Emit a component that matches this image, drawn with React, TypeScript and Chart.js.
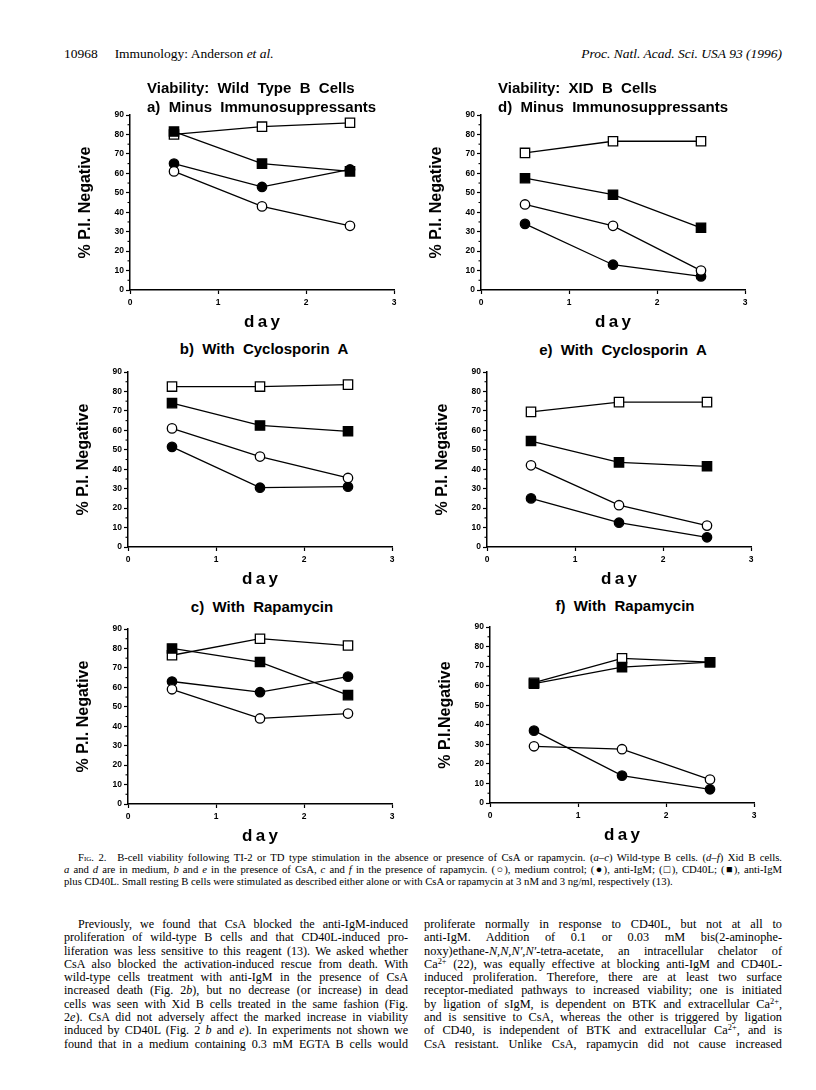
import React, { useEffect, useRef } from "react";
import { Chart, registerables } from "chart.js";
Chart.register(...registerables);

// ---------- data ----------
const DAYS = [0.5, 1.5, 2.5];

// a) Wild type, minus immunosuppressants
const A_MEDIUM = [61, 43, 33];
const A_ANTI_IGM = [65, 53, 62];
const A_CD40L = [80, 84, 86];
const A_BOTH = [81.5, 65, 61];

// b) Wild type, with cyclosporin A
const B_MEDIUM = [61, 46.5, 35.5];
const B_ANTI_IGM = [51.5, 30.5, 31];
const B_CD40L = [82.5, 82.5, 83.5];
const B_BOTH = [74, 62.5, 59.5];

// c) Wild type, with rapamycin
const C_MEDIUM = [59, 44, 46.5];
const C_ANTI_IGM = [63, 57.5, 65.5];
const C_CD40L = [76.5, 85, 81.5];
const C_BOTH = [80, 73, 56];

// d) XID, minus immunosuppressants
const D_MEDIUM = [44, 33, 10];
const D_ANTI_IGM = [34, 13, 7];
const D_CD40L = [70.5, 76.5, 76.5];
const D_BOTH = [57.5, 49, 32];

// e) XID, with cyclosporin A
const E_MEDIUM = [42, 21.5, 11];
const E_ANTI_IGM = [25, 12.5, 5];
const E_CD40L = [69.5, 74.5, 74.5];
const E_BOTH = [54.5, 43.5, 41.5];

// f) XID, with rapamycin
const F_MEDIUM = [29, 27.5, 12];
const F_ANTI_IGM = [37, 14, 7];
const F_CD40L = [61.5, 74, 72];
const F_BOTH = [61, 69.5, 72];

const X_MIN = 0;
const X_MAX = 3;
const Y_MIN = 0;
const Y_MAX = 90;
const Y_MINOR = [5, 15, 25, 35, 45, 55, 65, 75, 85];

// ---------- layout / style ----------
const SANS = '"Liberation Sans", Arial, Helvetica, sans-serif';
const SERIF = '"Liberation Serif", "Times New Roman", serif';

const Y_W = 70;
const X_H = 45;
const PAD_T = 10;
const PAD_R = 14;

type PanelDef = {
  id: string;
  medium: number[];
  antiIgM: number[];
  cd40l: number[];
  both: number[];
  yLabel: string;
  left: number;
  right: number;
  top: number;
  bottom: number;
  title: string[];
  titleX: number;
  titleY: number;
  titleAlign: "left" | "center";
};

const PANELS: PanelDef[] = [
  { id: "a", medium: A_MEDIUM, antiIgM: A_ANTI_IGM, cd40l: A_CD40L, both: A_BOTH, yLabel: "% P.I. Negative",
    left: 130, right: 394, top: 115, bottom: 290,
    title: ["Viability:  Wild  Type  B  Cells", "a)  Minus  Immunosuppressants"], titleX: 147, titleY: 78, titleAlign: "left" },
  { id: "d", medium: D_MEDIUM, antiIgM: D_ANTI_IGM, cd40l: D_CD40L, both: D_BOTH, yLabel: "% P.I. Negative",
    left: 481, right: 745, top: 115, bottom: 290,
    title: ["Viability:  XID  B  Cells", "d)  Minus  Immunosuppressants"], titleX: 498, titleY: 78, titleAlign: "left" },
  { id: "b", medium: B_MEDIUM, antiIgM: B_ANTI_IGM, cd40l: B_CD40L, both: B_BOTH, yLabel: "% P.I. Negative",
    left: 128, right: 392, top: 372, bottom: 547,
    title: ["b)  With  Cyclosporin  A"], titleX: 264, titleY: 339, titleAlign: "center" },
  { id: "e", medium: E_MEDIUM, antiIgM: E_ANTI_IGM, cd40l: E_CD40L, both: E_BOTH, yLabel: "% P.I. Negative",
    left: 487, right: 751, top: 372, bottom: 547,
    title: ["e)  With  Cyclosporin  A"], titleX: 623, titleY: 340, titleAlign: "center" },
  { id: "c", medium: C_MEDIUM, antiIgM: C_ANTI_IGM, cd40l: C_CD40L, both: C_BOTH, yLabel: "% P.I. Negative",
    left: 128, right: 392, top: 629, bottom: 804,
    title: ["c)  With  Rapamycin"], titleX: 262, titleY: 597, titleAlign: "center" },
  { id: "f", medium: F_MEDIUM, antiIgM: F_ANTI_IGM, cd40l: F_CD40L, both: F_BOTH, yLabel: "% P.I.Negative",
    left: 490, right: 754, top: 627, bottom: 803,
    title: ["f)  With  Rapamycin"], titleX: 625, titleY: 596, titleAlign: "center" },
];

const minorTicks = {
  id: "minorTicks",
  afterDraw(chart: any) {
    const ys = chart.scales.y;
    const ctx = chart.ctx;
    const x0 = chart.chartArea.left;
    ctx.save();
    ctx.strokeStyle = "#000";
    ctx.lineWidth = 1.1;
    for (const v of Y_MINOR) {
      const py = ys.getPixelForValue(v);
      ctx.beginPath();
      ctx.moveTo(x0 - 2.5, py);
      ctx.lineTo(x0, py);
      ctx.stroke();
    }
    ctx.restore();
  },
};

function series(vals: number[], style: "circle" | "rect", filled: boolean) {
  return {
    data: DAYS.map((d, i) => ({ x: d, y: vals[i] })),
    showLine: true,
    borderColor: "#000",
    borderWidth: 1.3,
    pointStyle: style,
    pointRadius: style === "circle" ? 4.7 : 6.6,
    pointHoverRadius: style === "circle" ? 4.7 : 6.6,
    pointBackgroundColor: filled ? "#000" : "#fff",
    pointBorderColor: "#000",
    pointBorderWidth: 1.3,
    clip: false as any,
  };
}

function Panel({ p }: { p: PanelDef }) {
  const ref = useRef<HTMLCanvasElement>(null);
  const W = Y_W + (p.right - p.left) + PAD_R;
  const H = PAD_T + (p.bottom - p.top) + X_H;
  useEffect(() => {
    if (!ref.current) return;
    const tickFont = { family: SANS, size: 8.5, weight: "bold" as const };
    const chart = new Chart(ref.current, {
      type: "scatter",
      data: {
        datasets: [
          series(p.both, "rect", true),
          series(p.medium, "circle", false),
          series(p.antiIgM, "circle", true),
          series(p.cd40l, "rect", false),
        ] as any,
      },
      options: {
        animation: false,
        responsive: false,
        devicePixelRatio: 1,
        layout: { padding: { left: 0, top: PAD_T, right: PAD_R, bottom: 0 } },
        plugins: { legend: { display: false }, tooltip: { enabled: false } },
        scales: {
          x: {
            type: "linear",
            min: X_MIN,
            max: X_MAX,
            afterFit: (s: any) => { s.height = X_H; },
            ticks: { stepSize: 1, color: "#000", font: tickFont, padding: 4, maxRotation: 0 },
            grid: { display: true, drawOnChartArea: false, drawTicks: true, tickLength: 4, color: "#000", tickColor: "#000", tickWidth: 1.2 },
            border: { display: true, color: "#000", width: 1.5 },
            title: { display: true, text: "d\u2009a\u2009y", color: "#000", font: { family: SANS, size: 17, weight: "bold" }, padding: { top: 0, bottom: 2 } },
          },
          y: {
            type: "linear",
            min: Y_MIN,
            max: Y_MAX,
            afterFit: (s: any) => { s.width = Y_W; },
            ticks: { stepSize: 10, color: "#000", font: tickFont, padding: 2 },
            grid: { display: true, drawOnChartArea: false, drawTicks: true, tickLength: 4, color: "#000", tickColor: "#000", tickWidth: 1.2 },
            border: { display: true, color: "#000", width: 1.5 },
            title: { display: true, text: p.yLabel, color: "#000", font: { family: SANS, size: 16, weight: "bold" }, padding: { top: 16, bottom: 0 } },
          },
        },
      } as any,
      plugins: [minorTicks],
    });
    return () => chart.destroy();
  }, []);
  return (
    <>
      <canvas
        ref={ref}
        width={W}
        height={H}
        style={{ position: "absolute", left: p.left - Y_W, top: p.top - PAD_T, width: W, height: H }}
      />
      <div
        style={{
          position: "absolute",
          left: p.titleAlign === "left" ? p.titleX : p.titleX - 200,
          width: p.titleAlign === "left" ? undefined : 400,
          textAlign: p.titleAlign,
          top: p.titleY,
          fontFamily: SANS,
          fontWeight: "bold",
          fontSize: 15,
          lineHeight: "19px",
          whiteSpace: "pre",
          color: "#000",
        }}
      >
        {p.title.map((t, i) => (
          <div key={i}>{t}</div>
        ))}
      </div>
    </>
  );
}

const Line = ({ children, last, indent }: { children: React.ReactNode; last?: boolean; indent?: number }) => (
  <div
    style={{
      whiteSpace: "nowrap",
      textAlign: "justify",
      textAlignLast: last ? "left" : "justify",
      paddingLeft: indent || 0,
    }}
  >
    {children}
  </div>
);

const Sup = ({ children }: { children: React.ReactNode }) => (
  <sup style={{ fontSize: "0.68em", lineHeight: 0, verticalAlign: "0.45em" }}>{children}</sup>
);

const TEXT_L = 64;
const TEXT_R = 782;

export default function App() {
  return (
    <div style={{ position: "absolute", left: 0, top: 0, width: 816, height: 1090, background: "#fff", overflow: "hidden", color: "#000" }}>
      {/* running header */}
      <div style={{ position: "absolute", left: TEXT_L, top: 46, fontFamily: SERIF, fontSize: 13.5, lineHeight: "15px", whiteSpace: "pre" }}>
        {"10968     Immunology: Anderson "}<i>et al.</i>
      </div>
      <div style={{ position: "absolute", right: 816 - TEXT_R, top: 46, fontFamily: SERIF, fontSize: 13.5, lineHeight: "15px", fontStyle: "italic" }}>
        Proc. Natl. Acad. Sci. USA 93 (1996)
      </div>

      {PANELS.map((p) => (
        <Panel key={p.id} p={p} />
      ))}

      {/* caption */}
      <div style={{ position: "absolute", left: TEXT_L, width: TEXT_R - TEXT_L, top: 851, fontFamily: SERIF, fontSize: 10.7, lineHeight: "12px" }}>
        <Line indent={14}>
          <span style={{ fontVariant: "small-caps" }}>Fig. 2.</span>{"\u2003"}B-cell viability following TI-2 or TD type stimulation in the absence or presence of CsA or rapamycin. (<i>a–c</i>) Wild-type B cells. (<i>d–f</i>) Xid B cells.
        </Line>
        <Line>
          <i>a</i> and <i>d</i> are in medium, <i>b</i> and <i>e</i> in the presence of CsA, <i>c</i> and <i>f</i> in the presence of rapamycin. (○), medium control; (●), anti-IgM; (□), CD40L; (■), anti-IgM
        </Line>
        <Line last>
          plus CD40L. Small resting B cells were stimulated as described either alone or with CsA or rapamycin at 3 nM and 3 ng/ml, respectively (13).
        </Line>
      </div>

      {/* body text, left column */}
      <div style={{ position: "absolute", left: TEXT_L, width: 344, top: 918, fontFamily: SERIF, fontSize: 12.1, lineHeight: "13.3px" }}>
        <Line indent={14}>Previously, we found that CsA blocked the anti-IgM-induced</Line>
        <Line>proliferation of wild-type B cells and that CD40L-induced pro-</Line>
        <Line>liferation was less sensitive to this reagent (13). We asked whether</Line>
        <Line>CsA also blocked the activation-induced rescue from death. With</Line>
        <Line>wild-type cells treatment with anti-IgM in the presence of CsA</Line>
        <Line>increased death (Fig. 2<i>b</i>), but no decrease (or increase) in dead</Line>
        <Line>cells was seen with Xid B cells treated in the same fashion (Fig.</Line>
        <Line>2<i>e</i>). CsA did not adversely affect the marked increase in viability</Line>
        <Line>induced by CD40L (Fig. 2 <i>b</i> and <i>e</i>). In experiments not shown we</Line>
        <Line>found that in a medium containing 0.3 mM EGTA B cells would</Line>
      </div>

      {/* body text, right column */}
      <div style={{ position: "absolute", left: 424, width: TEXT_R - 424, top: 918, fontFamily: SERIF, fontSize: 12.3, lineHeight: "13.3px" }}>
        <Line>proliferate normally in response to CD40L, but not at all to</Line>
        <Line>anti-IgM. Addition of 0.1 or 0.03 mM bis(2-aminophe-</Line>
        <Line>noxy)ethane-<i>N,N,N′,N′</i>-tetra-acetate, an intracellular chelator of</Line>
        <Line>Ca<Sup>2+</Sup> (22), was equally effective at blocking anti-IgM and CD40L-</Line>
        <Line>induced proliferation. Therefore, there are at least two surface</Line>
        <Line>receptor-mediated pathways to increased viability; one is initiated</Line>
        <Line>by ligation of sIgM, is dependent on BTK and extracellular Ca<Sup>2+</Sup>,</Line>
        <Line>and is sensitive to CsA, whereas the other is triggered by ligation</Line>
        <Line>of CD40, is independent of BTK and extracellular Ca<Sup>2+</Sup>, and is</Line>
        <Line>CsA resistant. Unlike CsA, rapamycin did not cause increased</Line>
      </div>
    </div>
  );
}
